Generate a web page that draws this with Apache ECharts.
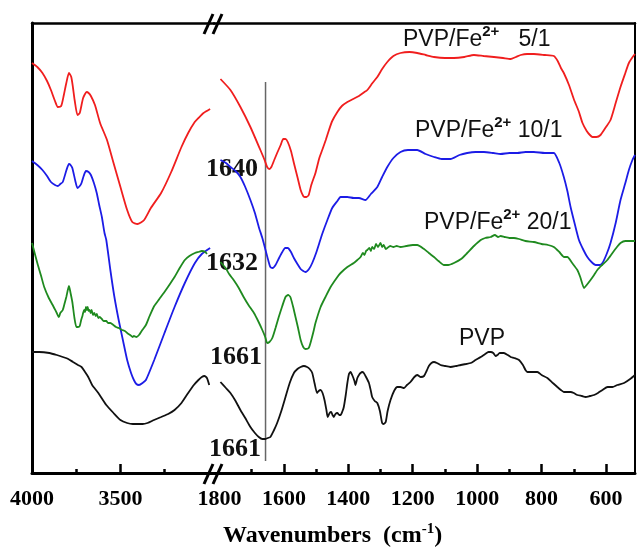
<!DOCTYPE html>
<html>
<head>
<meta charset="utf-8">
<script src="https://cdn.jsdelivr.net/npm/echarts@6/dist/echarts.min.js"></script>
<style>html,body{margin:0;padding:0;background:#fff;}#chart{width:637px;height:547px;}</style>
</head>
<body>
<div id="chart"></div>
<script>
// ---------- DATA (wavenumber cm^-1, transmittance in arbitrary offset units) ----------
const leftTicksMajor = [3500];
const leftTicksMinor = [3750, 3250];
const leftLabels = [4000, 3500];
const rightTicksMajor = [1600, 1400, 1200, 1000, 800, 600];
const rightTicksMinor = [1700, 1500, 1300, 1100, 900, 700];
const rightLabels = [1800, 1600, 1400, 1200, 1000, 800, 600];

const fe5_left = [[4000,410],[3970,406],[3941,400],[3915,392],[3893,383],[3870,372],[3854,366],[3835,367],[3820,378],[3806,390],[3791,400],[3778,396],[3768,385],[3759,373],[3743,358],[3730,360],[3711,375],[3691,381],[3680,380],[3667,377],[3644,368],[3615,350],[3576,333],[3539,310],[3500,286],[3462,263],[3433,251],[3404,249],[3366,253],[3328,265],[3270,280],[3213,301],[3155,326],[3117,340],[3080,351],[3059,355],[3030,360],[2993,364]];
const fe5_right = [[1797,394],[1766,383],[1735,366],[1704,346],[1673,323],[1660,313],[1652,306],[1645,304],[1639,306],[1630,313],[1621,320],[1610,328],[1602,334],[1595,334],[1588,331],[1578,322],[1569,310],[1558,296],[1548,283],[1540,277],[1536,276],[1530,276],[1523,278],[1515,288],[1502,300],[1490,315],[1481,323],[1470,333],[1460,343],[1450,352],[1434,361],[1420,367],[1403,371],[1385,374],[1367,377],[1350,381],[1341,383],[1325,390],[1310,396],[1295,404],[1279,411],[1260,417],[1238,420],[1210,421],[1186,420],[1160,418],[1134,416],[1100,415],[1072,415],[1040,416],[1010,418],[980,417],[948,416],[920,415],[896,414],[880,416],[865,418],[845,419],[824,419],[790,418],[762,417],[750,412],[740,405],[731,400],[715,388],[699,373],[685,362],[673,350],[660,342],[650,338],[642,336],[630,336],[617,338],[600,346],[586,353],[570,370],[555,386],[540,400],[529,410],[515,417],[510,419]];

const fe10_left = [[4000,312],[3970,308],[3941,303],[3915,297],[3893,291],[3870,288],[3854,287],[3840,289],[3826,291],[3805,303],[3791,309],[3782,308],[3772,305],[3755,292],[3743,285],[3730,287],[3720,290],[3708,297],[3695,302],[3680,301],[3667,298],[3650,290],[3634,280],[3620,268],[3605,256],[3590,240],[3580,233],[3557,203],[3535,177],[3510,153],[3485,132],[3462,113],[3440,100],[3424,93],[3410,89],[3395,88],[3375,90],[3356,93],[3309,113],[3251,140],[3194,166],[3136,190],[3079,210],[3040,219],[2993,225]];
const fe10_right = [[1797,313],[1780,310],[1766,306],[1750,302],[1735,296],[1720,286],[1704,273],[1690,260],[1678,246],[1667,235],[1657,223],[1648,212],[1642,206],[1635,205],[1626,208],[1615,215],[1605,221],[1596,225],[1588,225],[1578,221],[1569,215],[1558,209],[1548,204],[1540,202],[1533,201],[1522,204],[1512,210],[1500,220],[1490,230],[1480,240],[1465,253],[1450,265],[1434,272],[1424,276],[1403,276],[1383,275],[1367,275],[1347,273],[1330,279],[1310,286],[1295,296],[1279,306],[1260,315],[1238,321],[1215,323],[1186,323],[1160,319],[1134,316],[1110,314],[1083,314],[1055,318],[1031,320],[1005,321],[979,321],[950,320],[927,319],[900,320],[875,320],[850,321],[824,321],[790,320],[762,320],[745,310],[731,296],[720,282],[710,266],[697,249],[684,233],[670,223],[658,216],[645,211],[632,208],[620,208],[611,210],[598,219],[586,230],[570,250],[555,273],[540,290],[529,303],[518,313],[510,318]];

const fe20_left = [[4000,230],[3994,226],[3970,210],[3950,198],[3931,186],[3905,175],[3883,168],[3860,160],[3848,156],[3840,160],[3826,163],[3815,170],[3806,176],[3791,187],[3782,180],[3772,171],[3760,155],[3749,146],[3740,146],[3730,147],[3722,153],[3715,157],[3711,160],[3705,163],[3700,161],[3695,166],[3690,163],[3685,166],[3680,162],[3675,163],[3668,160],[3663,163],[3655,158],[3648,160],[3640,157],[3634,159],[3625,155],[3617,156],[3605,154],[3595,152],[3580,152],[3570,150],[3557,150],[3540,148],[3525,146],[3510,145],[3490,143],[3475,142],[3462,140],[3445,138],[3430,136],[3424,137],[3410,136],[3395,138],[3380,142],[3356,148],[3335,157],[3309,167],[3280,174],[3251,181],[3220,189],[3194,196],[3165,205],[3136,213],[3110,217],[3079,220],[3060,221],[3040,222],[3020,221],[3011,219]];
const fe20_right = [[1797,211],[1781,205],[1770,199],[1756,193],[1740,185],[1725,176],[1710,168],[1693,160],[1680,152],[1667,143],[1658,136],[1652,130],[1645,131],[1636,135],[1626,145],[1616,156],[1605,167],[1595,176],[1587,178],[1580,176],[1572,167],[1564,156],[1556,145],[1548,133],[1540,126],[1533,124],[1523,125],[1515,133],[1507,143],[1502,150],[1486,166],[1471,176],[1455,186],[1434,196],[1424,200],[1403,206],[1383,210],[1372,213],[1362,216],[1355,220],[1350,218],[1345,222],[1341,223],[1335,225],[1330,222],[1326,226],[1320,224],[1314,229],[1308,226],[1300,230],[1295,226],[1290,228],[1284,224],[1279,225],[1270,227],[1260,226],[1250,227],[1238,226],[1220,227],[1200,228],[1186,228],[1165,224],[1150,220],[1134,216],[1120,212],[1103,208],[1090,208],[1072,210],[1050,214],[1031,220],[1010,227],[989,233],[975,235],[958,236],[945,238],[935,236],[927,237],[915,236],[900,235],[886,235],[870,234],[850,232],[824,231],[800,229],[780,228],[762,226],[745,221],[730,216],[720,216],[705,210],[689,203],[680,196],[668,185],[660,188],[648,193],[637,198],[627,203],[612,208],[596,213],[580,220],[566,226],[555,230],[540,232],[525,232],[510,232]];

const pvp_left = [[4000,121],[3960,121],[3902,120],[3860,118],[3826,116],[3795,114],[3768,111],[3740,108],[3720,106],[3700,101],[3682,96],[3660,88],[3625,80],[3580,68],[3539,60],[3500,53],[3462,50],[3430,49],[3404,49],[3375,49],[3347,50],[3310,53],[3270,56],[3230,59],[3194,63],[3155,70],[3117,80],[3085,88],[3059,93],[3040,96],[3025,97],[3011,95],[2998,88]];
const pvp_right = [[1797,91],[1780,85],[1766,80],[1750,72],[1735,63],[1720,55],[1704,46],[1690,40],[1678,36],[1667,34],[1657,34],[1650,35],[1642,36],[1632,42],[1621,50],[1608,62],[1595,76],[1582,90],[1569,100],[1558,104],[1548,106],[1538,107],[1528,106],[1520,104],[1512,100],[1505,90],[1497,80],[1492,82],[1486,83],[1480,80],[1474,73],[1468,63],[1464,56],[1458,60],[1453,61],[1449,58],[1445,56],[1440,59],[1434,60],[1428,58],[1424,58],[1418,62],[1414,66],[1408,78],[1403,90],[1398,99],[1393,101],[1388,98],[1381,92],[1378,88],[1372,95],[1365,99],[1362,100],[1357,101],[1352,100],[1345,96],[1336,90],[1330,82],[1326,76],[1318,72],[1310,70],[1302,62],[1295,50],[1290,49],[1284,51],[1278,62],[1269,73],[1258,82],[1248,86],[1238,86],[1227,85],[1218,88],[1207,91],[1195,96],[1186,98],[1175,96],[1165,97],[1157,102],[1150,107],[1142,110],[1134,111],[1125,110],[1114,108],[1100,107],[1083,106],[1065,107],[1051,108],[1035,109],[1020,110],[1005,113],[989,116],[975,119],[965,121],[958,121],[950,120],[943,117],[937,118],[930,120],[917,120],[905,118],[896,116],[885,115],[870,113],[858,108],[850,103],[844,101],[830,101],[813,101],[800,98],[782,95],[765,90],[751,86],[740,83],[731,81],[720,81],[710,81],[700,80],[689,78],[675,77],[663,76],[650,77],[637,78],[625,80],[611,83],[595,86],[580,86],[565,88],[544,90],[525,94],[510,98]];

const markerWavenumber = 1657;
const markerSpan = [391, 12];

// ---------- CHART ----------
const SERIF = "'Liberation Serif','Times New Roman',serif";
const SANS = "'Liberation Sans',Arial,sans-serif";
const colors = { fe5: '#f01e1e', fe10: '#1c1ce6', fe20: '#1f8a1f', pvp: '#111111' };

const chart = echarts.init(document.getElementById('chart'), null, { renderer: 'canvas' });

function xMajor(grid, min, max, ticks, labels) {
  return { type: 'value', gridIndex: grid, position: 'bottom', inverse: true, min: min, max: max,
    axisLine: { show: true, onZero: false, lineStyle: { color: '#000', width: 3 } },
    axisTick: { show: true, inside: true, length: 9, customValues: ticks, lineStyle: { color: '#000', width: 2.5 } },
    axisLabel: { show: true, customValues: labels, margin: 15, color: '#000', fontFamily: SERIF, fontWeight: 'bold', fontSize: 22,
      formatter: function (v) { return String(v); } },
    splitLine: { show: false } };
}
function xMinor(grid, min, max, ticks) {
  return { type: 'value', gridIndex: grid, position: 'bottom', inverse: true, min: min, max: max,
    axisLine: { show: false, onZero: false },
    axisTick: { show: true, inside: true, length: 4, customValues: ticks, lineStyle: { color: '#000', width: 2.5 } },
    axisLabel: { show: false }, splitLine: { show: false } };
}
function xTop(grid, min, max) {
  return { type: 'value', gridIndex: grid, position: 'top', inverse: true, min: min, max: max,
    axisLine: { show: true, onZero: false, lineStyle: { color: '#000', width: 2.5 } },
    axisTick: { show: false }, axisLabel: { show: false }, splitLine: { show: false } };
}
function yAx(grid, pos, w) {
  return { type: 'value', gridIndex: grid, position: pos, min: 0, max: 450,
    axisLine: { show: true, onZero: false, lineStyle: { color: '#000', width: w } },
    axisTick: { show: false }, axisLabel: { show: false }, splitLine: { show: false } };
}
function line(name, data, color, xi, yi) {
  return { name: name, type: 'line', xAxisIndex: xi, yAxisIndex: yi, data: data, showSymbol: false, symbol: 'none',
    smooth: 0.2, lineStyle: { color: color, width: 1.8 }, itemStyle: { color: color }, silent: true };
}

const L_MIN = 2971, L_MAX = 4000, R_MIN = 510, R_MAX = 1817;

const supText = (main, tail) => ({
  type: 'text', style: {
    text: '{a|' + main + '}{s|2+}{a|' + tail + '}',
    fill: '#111', verticalAlign: 'top', align: 'left',
    rich: {
      a: { fontFamily: SANS, fontSize: 23, lineHeight: 23, verticalAlign: 'bottom', fill: '#111' },
      s: { fontFamily: SANS, fontSize: 15, lineHeight: 15, fontWeight: 'bold', padding: [0, 0, 12, 0], verticalAlign: 'bottom', fill: '#111' }
    }
  }
});

const l1 = supText('PVP/Fe', '   5/1'); l1.x = 403; l1.y = 28;
const l2 = supText('PVP/Fe', ' 10/1'); l2.x = 415; l2.y = 119;
const l3 = supText('PVP/Fe', ' 20/1'); l3.x = 424; l3.y = 211;

function ann(txt, x, y) {
  return { type: 'text', x: x, y: y, style: { text: txt, fill: '#111', align: 'center', verticalAlign: 'middle',
    font: 'bold 26px ' + SERIF } };
}
function slash(x1, y1, x2, y2) {
  return { type: 'line', shape: { x1: x1, y1: y1, x2: x2, y2: y2 }, style: { stroke: '#000', lineWidth: 3 }, z: 100 };
}

const option = {
  animation: false,
  backgroundColor: '#fff',
  grid: [
    { left: 32, top: 23, width: 182, height: 450 },
    { left: 214, top: 23, width: 421, height: 450 }
  ],
  xAxis: [
    xMajor(0, L_MIN, L_MAX, leftTicksMajor, leftLabels),
    xMinor(0, L_MIN, L_MAX, leftTicksMinor),
    xTop(0, L_MIN, L_MAX),
    xMajor(1, R_MIN, R_MAX, rightTicksMajor, rightLabels),
    xMinor(1, R_MIN, R_MAX, rightTicksMinor),
    xTop(1, R_MIN, R_MAX)
  ],
  yAxis: [ yAx(0, 'left', 3), yAx(1, 'right', 2) ],
  series: [
    { type: 'line', xAxisIndex: 3, yAxisIndex: 1, data: [[markerWavenumber, markerSpan[0]], [markerWavenumber, markerSpan[1]]],
      showSymbol: false, symbol: 'none', lineStyle: { color: '#666', width: 1.5 }, silent: true, z: 1 },
    line('PVP/Fe2+ 5/1', fe5_left, colors.fe5, 0, 0),
    line('PVP/Fe2+ 5/1', fe5_right, colors.fe5, 3, 1),
    line('PVP/Fe2+ 10/1', fe10_left, colors.fe10, 0, 0),
    line('PVP/Fe2+ 10/1', fe10_right, colors.fe10, 3, 1),
    line('PVP/Fe2+ 20/1', fe20_left, colors.fe20, 0, 0),
    line('PVP/Fe2+ 20/1', fe20_right, colors.fe20, 3, 1),
    line('PVP', pvp_left, colors.pvp, 0, 0),
    line('PVP', pvp_right, colors.pvp, 3, 1)
  ],
  graphic: [
    l1, l2, l3,
    { type: 'text', x: 459, y: 339, style: { text: 'PVP', fill: '#111', align: 'left', verticalAlign: 'middle', font: '23px ' + SANS } },
    ann('1640', 232, 169),
    ann('1632', 232, 263),
    ann('1661', 236, 357),
    ann('1661', 235, 449),
    slash(204, 34, 213, 14), slash(213, 34, 222, 14),
    slash(204, 484, 213, 464), slash(213, 484, 222, 464),
    { type: 'text', x: 223, y: 524, style: {
        text: '{t|Wavenumbers  (cm}{s|-1}{t|)}', fill: '#000', align: 'left', verticalAlign: 'top',
        rich: {
          t: { fontFamily: SERIF, fontWeight: 'bold', fontSize: 24, lineHeight: 24, verticalAlign: 'bottom', fill: '#000' },
          s: { fontFamily: SERIF, fontWeight: 'bold', fontSize: 15, lineHeight: 15, padding: [0, 0, 11, 0], verticalAlign: 'bottom', fill: '#000' }
        } } }
  ]
};
chart.setOption(option);
</script>
</body>
</html>
